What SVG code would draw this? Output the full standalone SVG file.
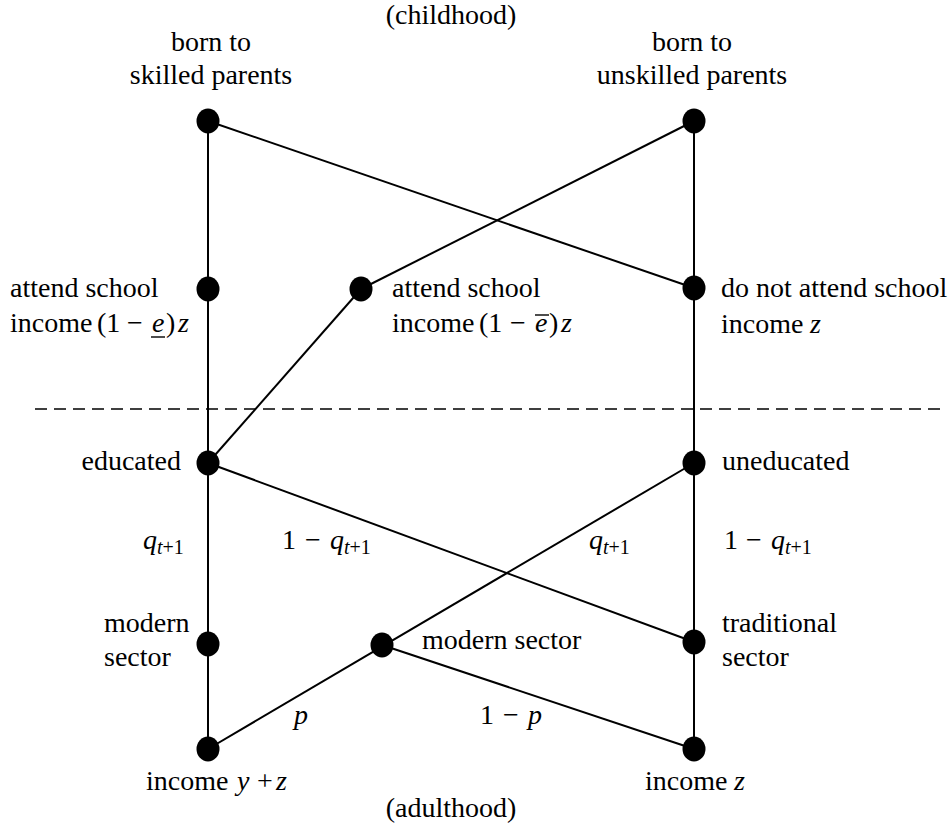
<svg xmlns="http://www.w3.org/2000/svg" width="952" height="830" viewBox="0 0 952 830">
<style>
text{font-family:"Liberation Serif",Tinos,"Times New Roman","DejaVu Serif",serif;font-size:28px;fill:#000}
.m{text-anchor:middle}
.e{text-anchor:end}
.i{font-style:italic}
.s{font-size:20px}
.ln{stroke:#000;stroke-width:2;fill:none}
.bar{stroke:#000;stroke-width:1.4}
.dot{fill:#000}
</style>
<rect width="952" height="830" fill="#fff"/>
<g id="connectors">
<line class="ln" x1="208" y1="121" x2="208" y2="749"/>
<line class="ln" x1="694" y1="121" x2="694" y2="749"/>
<line class="ln" x1="208" y1="121" x2="694" y2="288"/>
<line class="ln" x1="694" y1="121" x2="361" y2="289"/>
<line class="ln" x1="361" y1="289" x2="208" y2="463"/>
<line class="ln" x1="208" y1="463" x2="694" y2="642"/>
<line class="ln" x1="694" y1="463" x2="208" y2="749"/>
<line class="ln" x1="382" y1="645" x2="694" y2="749"/>
</g>
<line id="divider" x1="35" y1="409" x2="940" y2="409" stroke="#000" stroke-width="1.6" stroke-dasharray="12 7"/>
<text class="m" x="451" y="24">(childhood)</text>
<text class="m" x="451" y="817">(adulthood)</text>
<g id="skilled">
<ellipse class="dot" cx="208" cy="121" rx="11.5" ry="12.5"/>
<text class="m" x="211" y="51">born to</text>
<text class="m" x="211" y="84">skilled parents</text>
</g>
<g id="unskilled">
<ellipse class="dot" cx="694" cy="121" rx="11.5" ry="12.5"/>
<text class="m" x="692" y="51">born to</text>
<text class="m" x="692" y="84">unskilled parents</text>
</g>
<g id="attend-low">
<ellipse class="dot" cx="208" cy="289" rx="11.5" ry="12.5"/>
<text x="10" y="297">attend school</text>
<text y="332"><tspan x="10">income</tspan><tspan x="97">(1</tspan><tspan x="127">−</tspan><tspan x="152" class="i">e</tspan><tspan x="166">)</tspan><tspan x="178" class="i">z</tspan></text>
<line class="bar" x1="151" y1="337" x2="165" y2="337"/>
</g>
<g id="attend-high">
<ellipse class="dot" cx="361" cy="289" rx="11.5" ry="12.5"/>
<text x="392" y="297">attend school</text>
<text y="332"><tspan x="392">income</tspan><tspan x="479">(1</tspan><tspan x="510">−</tspan><tspan x="535" class="i">e</tspan><tspan x="549">)</tspan><tspan x="561" class="i">z</tspan></text>
<line class="bar" x1="535" y1="315" x2="549" y2="315"/>
</g>
<g id="no-school">
<ellipse class="dot" cx="694" cy="288" rx="11.5" ry="12.5"/>
<text x="721" y="297">do not attend school</text>
<text y="333"><tspan x="721">income</tspan><tspan x="810" class="i">z</tspan></text>
</g>
<g id="educated">
<ellipse class="dot" cx="208" cy="463" rx="11.5" ry="12.5"/>
<text class="e" x="181" y="470">educated</text>
</g>
<g id="uneducated">
<ellipse class="dot" cx="694" cy="463" rx="11.5" ry="12.5"/>
<text x="722" y="470">uneducated</text>
</g>
<g id="edge-labels">
<text y="549"><tspan x="143" class="i">q</tspan><tspan class="s" dy="5"><tspan class="i">t</tspan>+1</tspan></text>
<text y="549"><tspan x="282">1</tspan><tspan x="305">−</tspan><tspan x="330" class="i">q</tspan><tspan class="s" dy="5"><tspan class="i">t</tspan>+1</tspan></text>
<text y="549"><tspan x="589" class="i">q</tspan><tspan class="s" dy="5"><tspan class="i">t</tspan>+1</tspan></text>
<text y="549"><tspan x="724">1</tspan><tspan x="746">−</tspan><tspan x="771" class="i">q</tspan><tspan class="s" dy="5"><tspan class="i">t</tspan>+1</tspan></text>
<text class="i" x="294" y="724">p</text>
<text y="724"><tspan x="480">1</tspan><tspan x="503">−</tspan><tspan x="528" class="i">p</tspan></text>
</g>
<g id="modern-edu">
<ellipse class="dot" cx="208" cy="644" rx="11.5" ry="12.5"/>
<text x="104" y="632">modern</text>
<text x="104" y="666">sector</text>
</g>
<g id="modern-unedu">
<ellipse class="dot" cx="382" cy="645" rx="11.5" ry="12.5"/>
<text x="422" y="649">modern sector</text>
</g>
<g id="traditional">
<ellipse class="dot" cx="694" cy="642" rx="11.5" ry="12.5"/>
<text x="722" y="632">traditional</text>
<text x="722" y="666">sector</text>
</g>
<g id="income-high">
<ellipse class="dot" cx="208" cy="749" rx="11.5" ry="12.5"/>
<text y="790"><tspan x="146">income</tspan><tspan x="237" class="i">y</tspan><tspan x="257">+</tspan><tspan x="276" class="i">z</tspan></text>
</g>
<g id="income-low">
<ellipse class="dot" cx="694" cy="749" rx="11.5" ry="12.5"/>
<text y="790"><tspan x="645">income</tspan><tspan x="734" class="i">z</tspan></text>
</g>
</svg>
